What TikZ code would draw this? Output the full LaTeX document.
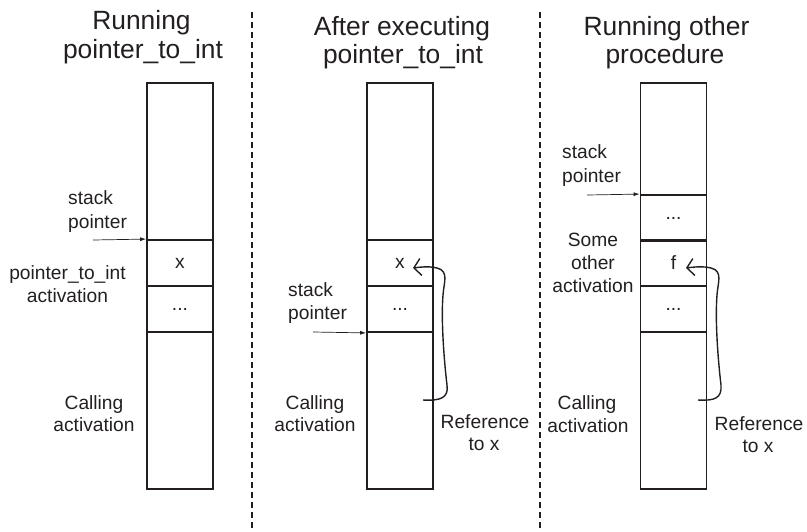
\documentclass[tikz,border=0pt]{standalone}
\usepackage{fontspec}
\setmainfont{Liberation Sans}
\usetikzlibrary{arrows.meta}
\definecolor{ink}{HTML}{231F20}
\begin{document}
\begin{tikzpicture}[x=1pt,y=-1pt,
 title/.style={anchor=base,inner sep=0pt,text=ink,font=\fontsize{26.4}{30}\selectfont},
 lbl/.style={anchor=base,inner sep=0pt,text=ink,font=\fontsize{19.2}{23}\selectfont},
 lbll/.style={lbl,anchor=base west},
 frame/.style={draw=ink,line width=1.3pt,minimum width=66pt,minimum height=406pt,inner sep=0pt},
 cell/.style={draw=ink,line width=1.8pt,minimum width=66pt,minimum height=46pt,inner sep=0pt,text=ink,font=\fontsize{19.2}{23}\selectfont},
 sp/.style={draw=ink,line width=0.7pt,-{Latex[length=6pt,width=4pt]}},
 ref/.style={draw=ink,line width=1.4pt,-{Straight Barb[length=7pt,width=17pt]}},
 divider/.style={draw=ink,line width=1.3pt,dash pattern=on 6pt off 4pt}]
\useasboundingbox (0,0) rectangle (807,531);

% dividers
\coordinate (d1t) at (252,12); \coordinate (d1b) at (252,531);
\coordinate (d2t) at (540,12); \coordinate (d2b) at (540,531);
\draw[divider] (d1t) -- (d1b);
\draw[divider] (d2t) -- (d2b);

% ---------- panel 1 ----------
\node[title] (t1a) at (141.5,29) {Running};
\node[title] (t1b) at (143,58) {pointer\_to\_int};
\node[frame] (f1) at (180,286) {};
\node[cell] (c1a) at (180,263) {x};
\node[cell] (c1b) at (180,309) {...};
\node[lbll] (s1a) at (68,204) {stack};
\node[lbll] (s1b) at (68,228) {pointer};
\coordinate (p1) at (93,240);
\draw[sp] (p1) -- (c1a.north west);
\node[lbl] (a1a) at (67.5,279) {pointer\_to\_int};
\node[lbl] (a1b) at (67.5,302) {activation};
\node[lbl] (k1a) at (94,409) {Calling};
\node[lbl] (k1b) at (94,431) {activation};

% ---------- panel 2 ----------
\node[title] (t2a) at (402,35) {After executing};
\node[title] (t2b) at (403,63) {pointer\_to\_int};
\node[frame] (f2) at (400,286) {};
\node[cell] (c2a) at (400,263) {x};
\node[cell] (c2b) at (400,309) {...};
\node[lbll] (s2a) at (288,296) {stack};
\node[lbll] (s2b) at (288,319) {pointer};
\coordinate (p2) at (313,332);
\draw[sp] (p2) -- (c2b.south west);
\node[lbl] (k2a) at (315,409) {Calling};
\node[lbl] (k2b) at (315,431) {activation};
\node[lbl] (r2a) at (485,428) {Reference};
\node[lbl] (r2b) at (484,450) {to x};
\coordinate (r2s) at (423,400);
\coordinate (r2e) at (413,268);
\draw[ref] (r2s) .. controls (440,401) and (449,398) .. (447,385)
  .. controls (444,360) and (441,320) .. (443,295)
  .. controls (444,282) and (449,271) .. (437,268)
  .. controls (429,266) and (421,267) .. (r2e);

% ---------- panel 3 ----------
\node[title] (t3a) at (666.5,35) {Running other};
\node[title] (t3b) at (665,63) {procedure};
\node[frame] (f3) at (673.5,286) {};
\node[cell] (c3a) at (673.5,218) {...};
\node[cell] (c3b) at (673.5,263) {f};
\node[cell] (c3c) at (673.5,309) {...};
\node[lbll] (s3a) at (562,158) {stack};
\node[lbll] (s3b) at (562,182) {pointer};
\coordinate (p3) at (587,195);
\draw[sp] (p3) -- (c3a.north west);
\node[lbl] (o3a) at (593,246) {Some};
\node[lbl] (o3b) at (593,269) {other};
\node[lbl] (o3c) at (593,292) {activation};
\node[lbl] (k3a) at (587,409) {Calling};
\node[lbl] (k3b) at (588,432) {activation};
\node[lbl] (r3a) at (759,430) {Reference};
\node[lbl] (r3b) at (758,452) {to x};
\coordinate (r3s) at (698,400);
\coordinate (r3e) at (686,268);
\draw[ref] (r3s) .. controls (715,401) and (722,398) .. (721,385)
  .. controls (718,360) and (715,320) .. (717,295)
  .. controls (718,282) and (723,271) .. (711,268)
  .. controls (703,266) and (694,267) .. (r3e);
\end{tikzpicture}
\end{document}
